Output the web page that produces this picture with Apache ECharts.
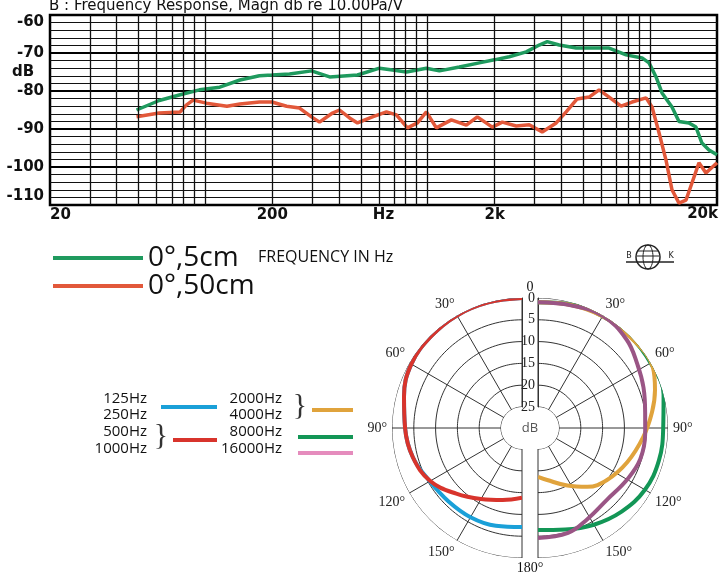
<!DOCTYPE html>
<html>
<head>
<meta charset="utf-8">
<title>Frequency Response</title>
<script src="https://cdn.jsdelivr.net/npm/echarts@6.0.0/dist/echarts.min.js"></script>
<style>
html, body { margin: 0; padding: 0; background: #fff; }
#chart { width: 720px; height: 575px; }
</style>
</head>
<body>
<div id="chart"></div>
<script>
// frequency response, Hz / dB re 10.00Pa/V
var freqGreen = [49, 62, 77, 94, 116, 143, 175, 199, 239, 300, 362, 483, 607, 694, 802, 986, 1128, 1387, 1705, 1992,
	2326, 2774, 3172, 3447, 3902, 4650, 5485, 6541, 7798, 9202, 9894, 10638, 11314, 12548, 13490, 14958, 16082, 17112, 18398, 20000];
var dbGreen = [-85, -82.5, -81, -79.7, -79, -77.1, -76, -75.8, -75.5, -74.7, -76.3, -75.8, -74, -74.5, -75, -74, -74.7, -73.7, -72.6, -71.8,
	-71, -69.7, -67.9, -67, -67.9, -68.7, -68.7, -68.7, -70.5, -71.3, -72.6, -76.3, -80.5, -84.2, -88, -88.4, -89.5, -93.7, -95.5, -96.8];

var freqRed = [49, 62, 77, 82, 88, 101, 125, 143, 175, 199, 232, 265, 300, 326, 373, 401, 445, 483, 564, 652,
	723, 810, 899, 986, 1093, 1277, 1491, 1671, 1951, 2164, 2500, 2861, 3272, 3783, 4194, 4699, 5318, 5898, 6541, 7406,
	8298, 9593, 10206, 10970, 11793, 12548, 13490, 14500, 15430, 16588, 17836, 20000];
var dbRed = [-86.8, -85.8, -85.5, -83.7, -82.4, -83.2, -84, -83.4, -82.9, -82.9, -84, -84.5, -86.8, -88.2, -85.8, -85, -87.1, -88.4, -86.8, -85.5,
	-86.3, -89.7, -88.4, -85.5, -89.7, -87.6, -89, -86.8, -89.5, -88.2, -89.2, -88.9, -90.8, -88.4, -85.5, -82.1, -81.6, -79.7, -81.6, -84,
	-82.9, -81.8, -84.2, -91, -98.2, -106, -109.5, -108.7, -104.2, -98.9, -101.6, -98.9];

var freqGrid = [30, 40, 50, 60, 70, 80, 90, 100, 200, 300, 400, 500, 600, 700, 800, 900,
	1000, 2000, 3000, 4000, 5000, 6000, 7000, 8000, 9000, 10000];
var xLabels = {20: '20', 200: '200', 632: 'Hz', 2000: '2k'};

// polar pattern, angle (deg) / attenuation (dB)
var angBlue = [0, 15, 30, 45, 60, 75, 90, 105, 120, 135, 150, 165, 180];
var attBlue = [0, 0, 0, 0.2, 0.5, 1.8, 3, 3.9, 5.4, 6, 6.2, 6.6, 7.1];
var angRed = [0, 15, 30, 45, 60, 75, 90, 105, 120, 135, 150, 165, 180];
var attRed = [0, 0, 0, 0.2, 0.5, 1.8, 3, 3.9, 5.5, 8.5, 11, 12.7, 13.8];
var angGreen = [0, 15, 30, 45, 60, 75, 90, 105, 120, 135, 150, 165, 180];
var attGreen = [1, 0.5, 0.2, 0, 0, 0, 1.1, 1.1, 1.5, 2.7, 4.2, 5.7, 6.4];
var angOrange = [0, 15, 30, 45, 62, 72, 82, 95, 111, 127, 140, 153, 170, 180];
var attOrange = [1, 0.6, 0.2, 0.1, 0, 1.6, 3.4, 5.6, 7.9, 10, 12.2, 15, 17.7, 18.6];
var angPurple = [0, 15, 30, 45, 57, 69, 82, 93, 107, 120, 136, 152, 164, 180];
var attPurple = [1, 0.7, 0.1, 1.1, 2.7, 3.9, 5, 5.2, 5.3, 6.2, 7, 6, 4.8, 4.6];

var polarTicks = [0, 5, 10, 15, 20, 25];

function toLog(freq, db) {
	var out = [];
	for (var i = 0; i < freq.length; i++) {
		out.push([Math.log10(freq[i]), db[i]]);
	}
	return out;
}

function toPolar(ang, att) {
	var out = [];
	for (var i = 0; i < ang.length; i++) {
		out.push([att[i], ang[i]]);
	}
	return out;
}

function polarSeries(name, idx, color, ang, att) {
	return {
		name: name,
		type: 'line',
		coordinateSystem: 'polar',
		polarIndex: idx,
		data: toPolar(ang, att),
		smooth: 0.4,
		showSymbol: false,
		clip: false,
		z: 4,
		itemStyle: { color: color },
		lineStyle: { color: color, width: 4 }
	};
}

// half ring at one radius tick, drawn through the polar scale
function ringSeries(idx, tick) {
	var pts = [];
	for (var a = 0; a <= 180; a += 2) {
		pts.push([tick, a]);
	}
	return {
		type: 'line',
		coordinateSystem: 'polar',
		polarIndex: idx,
		data: pts,
		silent: true,
		showSymbol: false,
		clip: false,
		z: 2,
		lineStyle: { color: '#333', width: 1 }
	};
}

function angleAxis(idx, endAngle, clockwise) {
	return {
		polarIndex: idx,
		type: 'value',
		min: 0,
		max: 180,
		interval: 30,
		startAngle: 90,
		endAngle: endAngle,
		clockwise: clockwise,
		axisLine: { show: false },
		axisTick: { show: false },
		splitLine: { show: true, lineStyle: { color: '#333', width: 1 } },
		splitArea: { show: false },
		axisLabel: {
			margin: 5,
			fontFamily: 'Liberation Serif',
			fontSize: 14,
			color: '#222',
			formatter: function (v) {
				if (v == 0 || v == 180) {
					return '';
				}
				return v + '°';
			}
		}
	};
}

function radiusAxis(idx, showLabel) {
	return {
		polarIndex: idx,
		type: 'value',
		min: 0,
		max: 25,
		interval: 5,
		inverse: true,
		axisLine: { show: true, lineStyle: { color: '#333', width: 1 } },
		axisTick: { show: false },
		splitLine: { show: false },
		splitArea: { show: false },
		axisLabel: {
			show: showLabel,
			margin: 3,
			fontFamily: 'Liberation Serif',
			fontSize: 14,
			color: '#222'
		}
	};
}

function swatch(name, left, top, width, color) {
	var item = { name: name };
	if (color) {
		item.itemStyle = { color: color };
	}
	return {
		data: [item],
		left: left,
		top: top,
		icon: 'rect',
		itemWidth: width,
		itemHeight: 4,
		selectedMode: false,
		textStyle: { fontSize: 4, lineHeight: 4 },
		formatter: function () { return ''; }
	};
}

function label(text, x, y, size, align, family, color, weight) {
	return {
		type: 'text',
		x: x,
		y: y,
		silent: true,
		style: {
			text: text,
			fontSize: size,
			fontFamily: family || 'Open Sans',
			fontWeight: weight || 'normal',
			fill: color || '#111',
			align: align || 'left',
			verticalAlign: 'middle'
		}
	};
}

var chart = echarts.init(document.getElementById('chart'));

var series = [
	{
		name: 'grid',
		type: 'line',
		data: [],
		silent: true,
		z: 1,
		markLine: {
			silent: true,
			symbol: ['none', 'none'],
			label: { show: false },
			lineStyle: { color: '#111', width: 1.3, type: 'solid' },
			data: freqGrid.map(function (f) { return { xAxis: Math.log10(f) }; })
		}
	},
	{
		name: '0°,5cm',
		type: 'line',
		data: toLog(freqGreen, dbGreen),
		showSymbol: false,
		z: 3,
		itemStyle: { color: '#1f9a5e' },
		lineStyle: { color: '#1f9a5e', width: 3.5 }
	},
	{
		name: '0°,50cm',
		type: 'line',
		data: toLog(freqRed, dbRed),
		showSymbol: false,
		z: 3,
		itemStyle: { color: '#e2583a' },
		lineStyle: { color: '#e2583a', width: 3.5 }
	}
];
for (var p = 0; p < 2; p++) {
	for (var k = 0; k < polarTicks.length; k++) {
		series.push(ringSeries(p, polarTicks[k]));
	}
}
series.push(polarSeries('125Hz', 0, '#1aa0d8', angBlue, attBlue));
series.push(polarSeries('500Hz', 0, '#d8342c', angRed, attRed));
series.push(polarSeries('8000Hz', 1, '#139656', angGreen, attGreen));
series.push(polarSeries('2000Hz', 1, '#e0a33c', angOrange, attOrange));
series.push(polarSeries('16000Hz', 1, '#9a5585', angPurple, attPurple));

var option = {
	animation: false,
	backgroundColor: '#fff',
	grid: {
		left: 50,
		right: 2,
		top: 15,
		height: 190,
		show: true,
		borderColor: '#000',
		borderWidth: 2.5
	},
	xAxis: {
		type: 'value',
		min: 1.301,
		max: 4.301,
		interval: 0.5,
		axisLine: { show: false },
		axisTick: { show: false },
		splitLine: { show: false },
		axisLabel: {
			margin: 3,
			fontFamily: 'DejaVu Sans',
			fontWeight: 'bold',
			fontSize: 15,
			color: '#111',
			showMinLabel: true,
			alignMinLabel: 'left',
			formatter: function (v) {
				var f = Math.round(Math.pow(10, v));
				return xLabels[f] || '';
			}
		}
	},
	yAxis: {
		type: 'value',
		min: -110,
		max: -60,
		interval: 10,
		axisLine: { show: false },
		axisTick: { show: false },
		splitLine: { show: true, lineStyle: { color: '#000', width: 2.2 } },
		minorTick: { show: false, splitNumber: 5 },
		minorSplitLine: { show: true, lineStyle: { color: '#111', width: 1.2 } },
		axisLabel: {
			margin: 6,
			fontFamily: 'DejaVu Sans',
			fontWeight: 'bold',
			fontSize: 15,
			color: '#111',
			formatter: function (v) {
				if (v == -60) {
					return '{t|' + v + '}';
				}
				if (v == -110) {
					return '{b|' + v + '}';
				}
				return '' + v;
			},
			rich: {
				t: { fontFamily: 'DejaVu Sans', fontWeight: 'bold', fontSize: 15, color: '#111', padding: [14, 0, 0, 0] },
				b: { fontFamily: 'DejaVu Sans', fontWeight: 'bold', fontSize: 15, color: '#111', padding: [0, 0, 18, 0] }
			}
		}
	},
	polar: [
		{ center: [522, 428], radius: [21, 130] },
		{ center: [538, 428], radius: [21, 130] }
	],
	angleAxis: [angleAxis(0, 270, false), angleAxis(1, -90, true)],
	radiusAxis: [radiusAxis(0, false), radiusAxis(1, true)],
	legend: [
		{
			data: ['0°,5cm', '0°,50cm'],
			orient: 'vertical',
			left: 48,
			top: 239,
			icon: 'rect',
			itemWidth: 90,
			itemHeight: 4,
			itemGap: 0,
			selectedMode: false,
			textStyle: { fontFamily: 'Open Sans', fontSize: 28, lineHeight: 27, color: '#111' }
		},
		swatch('125Hz', 156, 400, 56),
		swatch('500Hz', 168, 433, 44),
		swatch('2000Hz', 307, 403, 41),
		swatch('8000Hz', 293, 430, 55),
		swatch('16000Hz', 293, 446, 55, '#e58cbd')
	],
	graphic: [
		label('B : Frequency Response, Magn db re 10.00Pa/V', 49, 6, 15, 'left', 'DejaVu Sans'),
		label('dB', 12, 72, 15, 'left', 'DejaVu Sans', '#111', 'bold'),
		label('20k', 718, 214, 15, 'right', 'DejaVu Sans', '#111', 'bold'),
		label('FREQUENCY IN Hz', 258, 257, 16),
		label('0', 530, 287, 14, 'center', 'Liberation Serif'),
		label('180°', 530, 568, 14, 'center', 'Liberation Serif'),
		label('dB', 530, 428, 13, 'center', 'Open Sans', '#555'),
		label('125Hz', 147, 399, 15, 'right'),
		label('250Hz', 147, 415, 15, 'right'),
		label('500Hz', 147, 432, 15, 'right'),
		label('1000Hz', 147, 449, 15, 'right'),
		label('2000Hz', 282, 399, 15, 'right'),
		label('4000Hz', 282, 415, 15, 'right'),
		label('8000Hz', 282, 432, 15, 'right'),
		label('16000Hz', 282, 449, 15, 'right'),
		label('}', 161, 436, 30, 'center', 'Liberation Serif', '#333'),
		label('}', 300, 406, 30, 'center', 'Liberation Serif', '#333'),
		{ type: 'circle', silent: true, shape: { cx: 648, cy: 257, r: 12 }, style: { fill: 'none', stroke: '#222', lineWidth: 1.5 } },
		{ type: 'ellipse', silent: true, shape: { cx: 648, cy: 257, rx: 5, ry: 12 }, style: { fill: 'none', stroke: '#222', lineWidth: 1 } },
		{ type: 'line', silent: true, shape: { x1: 638, y1: 251, x2: 658, y2: 251 }, style: { stroke: '#222', lineWidth: 1 } },
		{ type: 'line', silent: true, shape: { x1: 637, y1: 256, x2: 659, y2: 256 }, style: { stroke: '#222', lineWidth: 1 } },
		{ type: 'line', silent: true, shape: { x1: 626, y1: 262, x2: 674, y2: 262 }, style: { stroke: '#222', lineWidth: 1.5 } },
		label('B', 629, 256, 8, 'center', 'DejaVu Sans', '#222'),
		label('K', 671, 256, 8, 'center', 'DejaVu Sans', '#222')
	],
	series: series
};

chart.setOption(option);
</script>
</body>
</html>
